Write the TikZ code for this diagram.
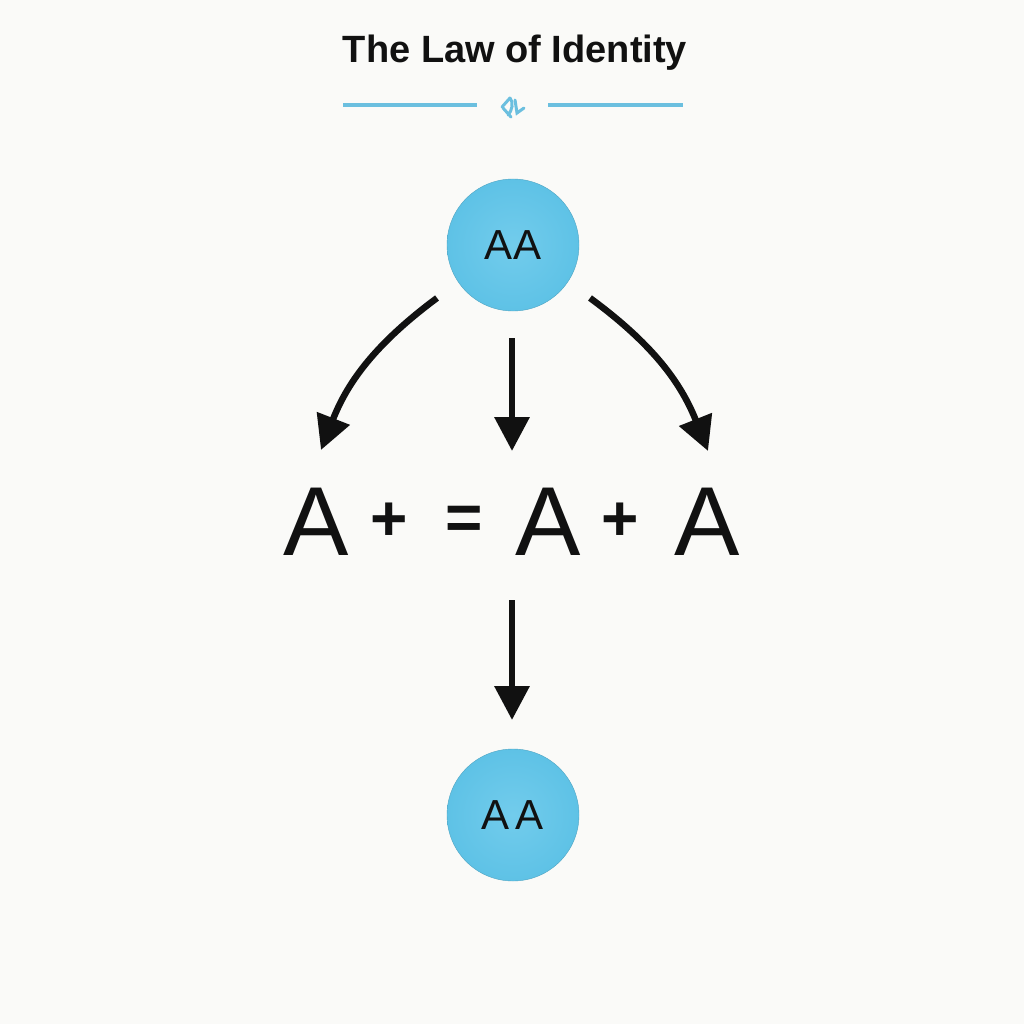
\documentclass[tikz,border=0pt]{standalone}
\usepackage{fontspec}
\setmainfont{Liberation Sans}
\usetikzlibrary{arrows.meta}
\definecolor{bg}{HTML}{FAFAF8}
\definecolor{ball}{HTML}{5EC2E6}
\definecolor{ballin}{HTML}{72CCEC}
\definecolor{rule}{HTML}{6BBFDF}
\definecolor{ink}{HTML}{111111}
\begin{document}
\begin{tikzpicture}[x=1pt,y=-1pt,
  ballnode/.style={circle,minimum size=132pt,inner sep=0pt,inner color=ballin,outer color=ball,draw=ball!85!black,line width=0.4pt,font=\fontsize{42}{42}\selectfont,text=ink},
  bigA/.style={anchor=base,inner sep=0pt,font=\fontsize{98}{98}\selectfont,text=ink},
  opsym/.style={inner sep=0pt,font=\fontsize{64}{64}\selectfont\bfseries,text=ink},
  conn/.style={draw=ink,line width=6.5pt,-{Triangle[length=34pt,width=34pt]}},
  rulel/.style={draw=rule,line width=4pt}]
\useasboundingbox[fill=bg] (0,0) rectangle (1024,1024);
% title
\node[font=\fontsize{38}{38}\selectfont\bfseries,text=ink] (title) at (515,53) {The Law of Identity};
\coordinate (l1) at (343,105); \coordinate (l2) at (477,105);
\coordinate (r1) at (548,105); \coordinate (r2) at (683,105);
\draw[rulel] (l1) -- (l2);
\draw[rulel] (r1) -- (r2);
% ornament
\coordinate (orn) at (512,105);
\begin{scope}[shift={(orn)},draw=rule,line width=3pt,line cap=round]
  \draw (-10,2) -- (-2,-7);
  \draw (-2,-7) .. controls (2,-3) and (0,6) .. (-4,10);
  \draw (3,-5) -- (5,8) -- (12,3);
  \draw (-9,3) -- (-1,12);
\end{scope}
% circles
\node[ballnode] (top) at (513,245) {AA};
\node[ballnode] (bot) at (513,815) {A\kern6pt A};
% equation
\node[bigA] (a1) at (316,555) {A};
\node[opsym] (p1) at (389,522) {+};
\node[opsym] (eq) at (464,523) {=};
\node[bigA] (a2) at (548,555) {A};
\node[opsym] (p2) at (620,522) {+};
\node[bigA] (a3) at (707,555) {A};
% connectors
\coordinate (s1) at (437,298); \coordinate (e1) at (321,450);
\coordinate (s2) at (512,338); \coordinate (e2) at (512,451);
\coordinate (s3) at (590,298); \coordinate (e3) at (708,451);
\coordinate (s4) at (512,600); \coordinate (e4) at (512,720);
\draw[conn] (s1) to[bend right=16] (e1);
\draw[conn] (s2) -- (e2);
\draw[conn] (s3) to[bend left=16] (e3);
\draw[conn] (s4) -- (e4);
\end{tikzpicture}
\end{document}
